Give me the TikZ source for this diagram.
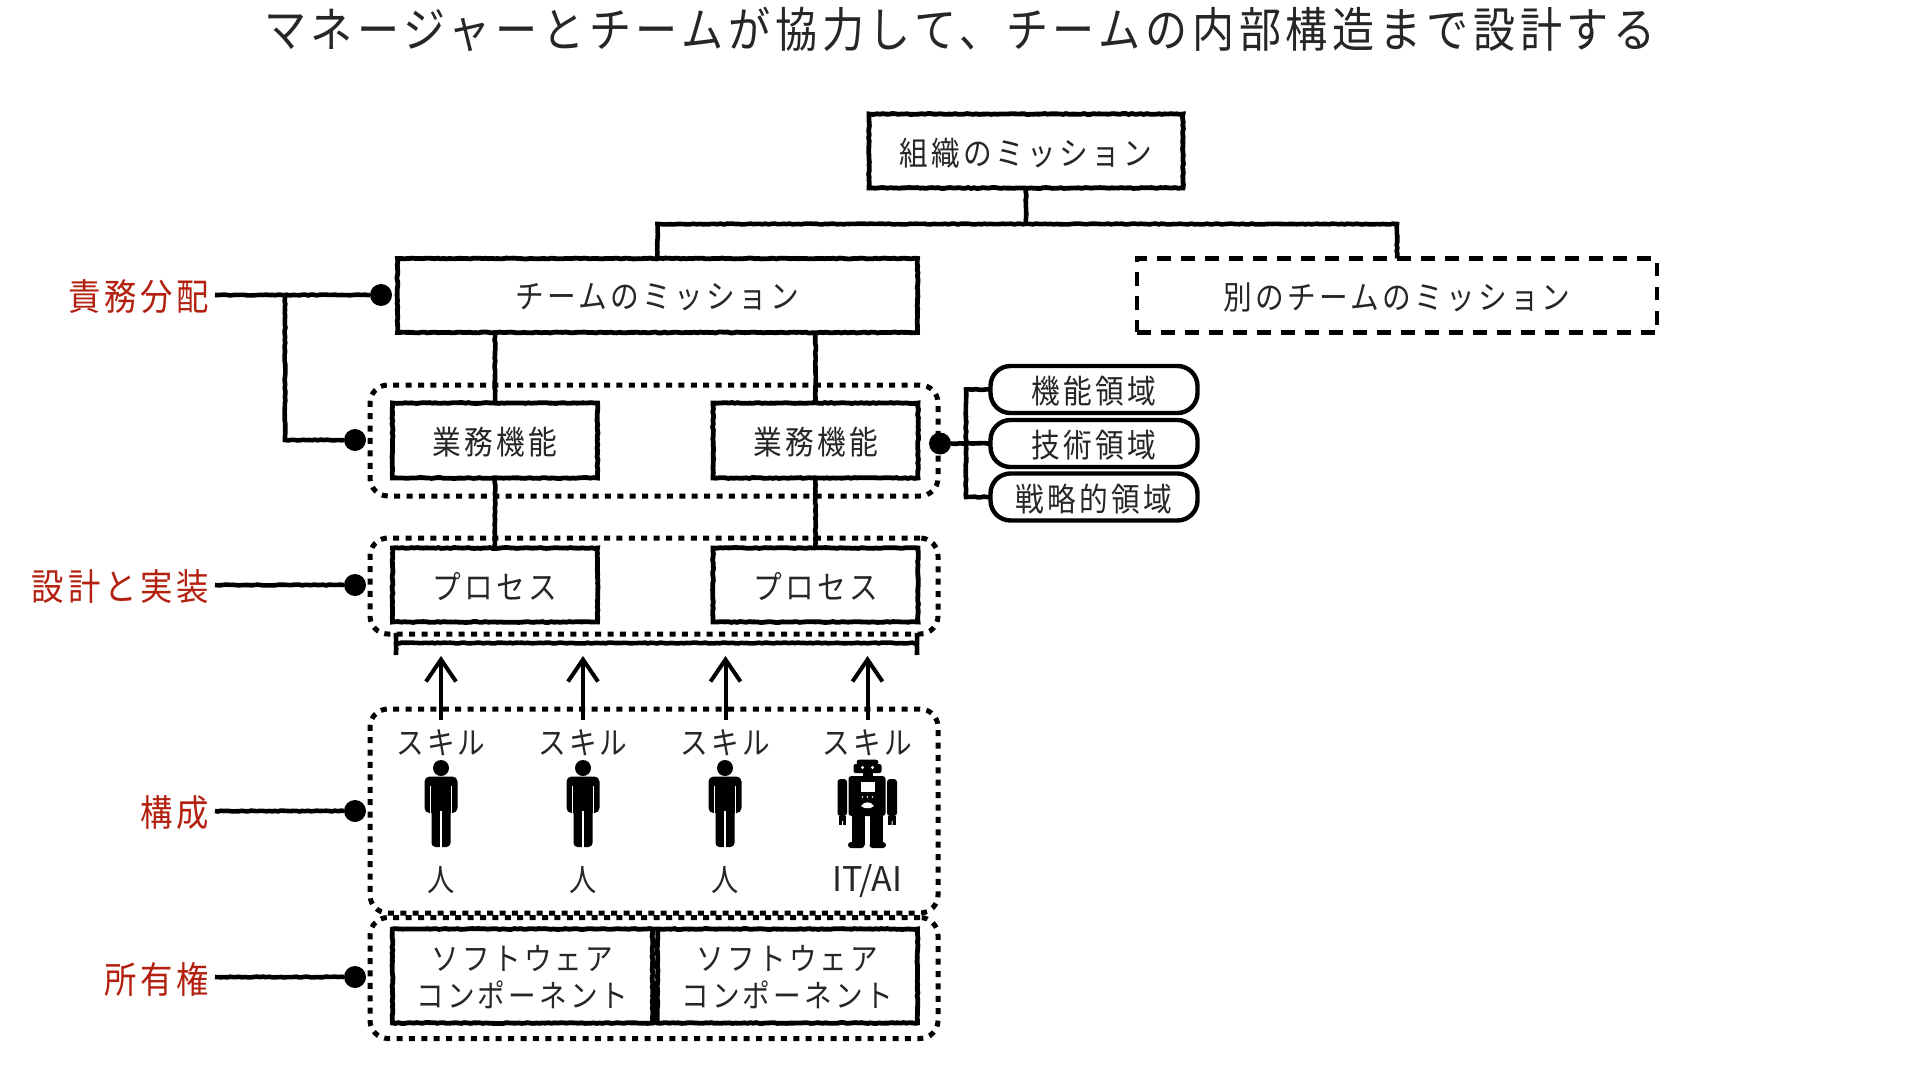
\documentclass[tikz,border=0pt]{standalone}
\usepackage{fontspec}
\setmainfont[FakeStretch=.88,LetterSpace=10]{Noto Sans CJK JP}
\newfontfamily\latinface{Noto Sans CJK JP}
\usetikzlibrary{decorations.pathmorphing,arrows.meta}
\definecolor{labelred}{HTML}{B3200F}
\definecolor{inkc}{gray}{0.15}
\newcommand{\lowered}[1]{\raisebox{-1pt}[\height][\depth]{#1}}
\newcommand{\twolines}[2]{\raisebox{-2.6pt}[\height][\depth]{\begin{tabular}{@{}c@{}}#1\\#2\end{tabular}}}
\tikzset{
  rough/.style={decorate,decoration={random steps,segment length=1.5pt,amplitude=.22pt}},
  boxtext/.style={font=\fontsize{16.3}{17}\selectfont,text=inkc,align=center,inner sep=0pt,outer sep=0pt},
  solidbox/.style={boxtext,draw=black,line width=2.4pt,rough},
  dashbox/.style={boxtext,draw=black,line width=2.2pt,dash pattern=on 6.8pt off 5.2pt},
  pill/.style={boxtext,draw=black,line width=2.2pt,rounded corners=10pt,minimum width=103.5pt,minimum height=23.5pt},
  group/.style={draw=black,line width=2.5pt,dash pattern=on 3pt off 3.2pt,rounded corners=9pt,inner sep=0pt,outer sep=0pt,minimum width=284pt},
  redlabel/.style={font=\fontsize{18.4}{19}\selectfont,text=labelred,inner sep=3.2pt,outer sep=0pt,anchor=east},
  dotmark/.style={circle,fill=black,inner sep=0pt,outer sep=0pt,minimum size=11pt},
  wire/.style={draw=black,line width=2.3pt,rough},
  skillarrow/.style={draw=black,line width=2pt,-{Straight Barb[length=11pt,width=15pt,line width=2pt]}},
  plain/.style={font=\fontsize{15.7}{17}\selectfont,text=inkc,inner sep=0pt,outer sep=0pt},
}
\newcommand{\personfig}[1]{%
  \begin{scope}[shift={(#1,0)}]
    \fill[black] (0,768) circle[radius=8];
    \fill[black,rounded corners=2.5pt] (-16.5,776.5) rectangle (16.5,813);
    \fill[black,rounded corners=2pt] (-9.5,790) rectangle (9.5,847);
    \draw[white,line width=.7pt] (-10.4,786) -- (-10.4,813.5) (10.4,786) -- (10.4,813.5) (0,811) -- (0,848);
  \end{scope}}
\newcommand{\robotfig}[1]{%
  \begin{scope}[shift={(#1,0)}]
    \fill[black,rounded corners=1.5pt] (-11,759.5) rectangle (11,765);
    \fill[black,rounded corners=1pt] (-14,764) rectangle (14,773);
    \fill[black] (-5,772) rectangle (5,777);
    \fill[black,rounded corners=1.5pt] (-19,776) rectangle (18,816);
    \fill[black,rounded corners=1.5pt] (-30,779) rectangle (-20.5,816);
    \fill[black,rounded corners=1.5pt] (19.5,779) rectangle (29.5,816);
    \fill[black] (-29,816) rectangle (-21.5,825);
    \fill[black] (20.5,816) rectangle (28.5,825);
    \fill[black] (-16,815) rectangle (-3,845);
    \fill[black] (2,815) rectangle (15,845);
    \fill[black,rounded corners=1.5pt] (-19.5,842) rectangle (-3,848);
    \fill[black,rounded corners=1.5pt] (2,842) rectangle (18.5,848);
    \fill[white] (-7,782) rectangle (7,791.5);
    \fill[white] (-5,767.5) circle[radius=1.6] (5,767.5) circle[radius=1.6];
    \fill[white] (-5,797) circle[radius=.9] (0,797) circle[radius=.9] (5,797) circle[radius=.9];
    \fill[white] (-6.5,806) .. controls (-3,801) and (3,801) .. (6.5,806) -- (3,808) -- (-3,808) -- cycle;
    \fill[white] (-25.5,821) rectangle (-24.5,825.5) (24,821) rectangle (25,825.5);
  \end{scope}}
\begin{document}
\begin{tikzpicture}[x=.5pt,y=-.5pt]
\pgfmathsetseed{7}
\useasboundingbox (0,0) rectangle (1920,1080);
\fill[white] (0,0) rectangle (1920,1080);

\node[font=\fontsize{23.9}{25}\selectfont,text=inkc,inner sep=0pt] (title) at (960,29) {マネージャーとチームが協力して、チームの内部構造まで設計する};

% dotted groups
\node[group,minimum height=55.5pt] (g1) at (654,440.5) {};
\node[group,minimum height=48pt] (g2) at (654,586) {};
\node[group,minimum height=102pt] (g3) at (654,811) {};
\node[group,minimum height=60.5pt] (g4) at (654,978) {};

% boxes
\node[solidbox,minimum width=157pt,minimum height=37pt] (org) at (1026,151) {\lowered{組織のミッション}};
\node[solidbox,minimum width=260pt,minimum height=37pt] (team) at (657.5,295.5) {\lowered{チームのミッション}};
\node[dashbox,minimum width=260pt,minimum height=37pt] (other) at (1397,295.5) {\lowered{別のチームのミッション}};
\node[solidbox,minimum width=102.5pt,minimum height=37.5pt] (fa) at (495,440.5) {\lowered{業務機能}};
\node[solidbox,minimum width=102.5pt,minimum height=37.5pt] (fb) at (815.5,440.5) {\lowered{業務機能}};
\node[solidbox,minimum width=102.5pt,minimum height=37pt] (pa) at (495,585) {\lowered{プロセス}};
\node[solidbox,minimum width=102.5pt,minimum height=37pt] (pb) at (815.5,585) {\lowered{プロセス}};
\node[solidbox,minimum width=130pt,minimum height=47pt,font=\fontsize{15.7}{16.6}\selectfont] (sa) at (522.5,976) {\twolines{ソフトウェア}{コンポーネント}};
\node[solidbox,minimum width=130pt,minimum height=47pt,font=\fontsize{15.7}{16.6}\selectfont] (sb) at (787.5,976) {\twolines{ソフトウェア}{コンポーネント}};

\node[pill] (p1) at (1094,389.5) {\lowered{機能領域}};
\node[pill] (p2) at (1094,443.5) {\lowered{技術領域}};
\node[pill] (p3) at (1094,497) {\lowered{戦略的領域}};

% red labels and dots
\node[redlabel] (l1) at (215,295) {\lowered{責務分配}};
\node[redlabel] (l2) at (215,585) {\lowered{設計と実装}};
\node[redlabel] (l3) at (215,811) {\lowered{構成}};
\node[redlabel] (l4) at (215,977) {\lowered{所有権}};
\node[dotmark] (d1) at (381,295) {};
\node[dotmark] (d1b) at (355,440) {};
\node[dotmark] (d2) at (355,585) {};
\node[dotmark] (d3) at (355,811) {};
\node[dotmark] (d4) at (355,977) {};
\node[dotmark] (dr) at (940,443.5) {};

% hierarchy connectors
\coordinate (j) at (1026,224);
\draw[wire] (team.north) -- (team.north |- j) -- (other.north |- j) -- (other.north);
\draw[wire] (org.south) -- (j);
\draw[wire] (fa.north) -- (fa.north |- team.south);
\draw[wire] (fb.north) -- (fb.north |- team.south);
\draw[wire] (pa.north) -- (fa.south);
\draw[wire] (pb.north) -- (fb.south);

% label connectors
\coordinate (b1) at (285,295);
\draw[wire] (l1.east) -- (d1);
\draw[wire] (b1) -- (b1 |- d1b) -- (d1b);
\draw[wire] (l2.east) -- (d2);
\draw[wire] (l3.east) -- (d3);
\draw[wire] (l4.east) -- (d4);

% right tree
\coordinate (rt) at (966,443.5);
\draw[wire] (dr) -- (p2.west);
\draw[wire] (p1.west) -- (p1.west -| rt) -- (p3.west -| rt) -- (p3.west);

% bracket
\coordinate (bl) at (396,643);
\coordinate (br) at (917,643);
\draw[wire] (bl) -- (br);
\draw[wire] (396,633) -- (bl) -- (396,655);
\draw[wire] (917,633) -- (br) -- (917,655);

% skills
\node[plain,minimum height=23pt] (k1) at (441,743) {スキル};
\node[plain,minimum height=23pt] (k2) at (583,743) {スキル};
\node[plain,minimum height=23pt] (k3) at (725.5,743) {スキル};
\node[plain,minimum height=23pt] (k4) at (867.5,743) {スキル};
\foreach \k in {k1,k2,k3,k4}{
  \coordinate (\k tip) at (\k.north |- 0,656);
  \draw[skillarrow] (\k.north) -- (\k tip);
}

% people
\personfig{441}
\personfig{583}
\personfig{725}
\robotfig{867.5}
\node[plain,font=\fontsize{15.5}{17}\selectfont] (h1) at (441,880) {人};
\node[plain,font=\fontsize{15.5}{17}\selectfont] (h2) at (583,880) {人};
\node[plain,font=\fontsize{15.5}{17}\selectfont] (h3) at (725.5,880) {人};
\node[plain,font=\latinface\fontsize{17}{17}\selectfont] (h4) at (867.5,881) {IT/AI};
\end{tikzpicture}
\end{document}
